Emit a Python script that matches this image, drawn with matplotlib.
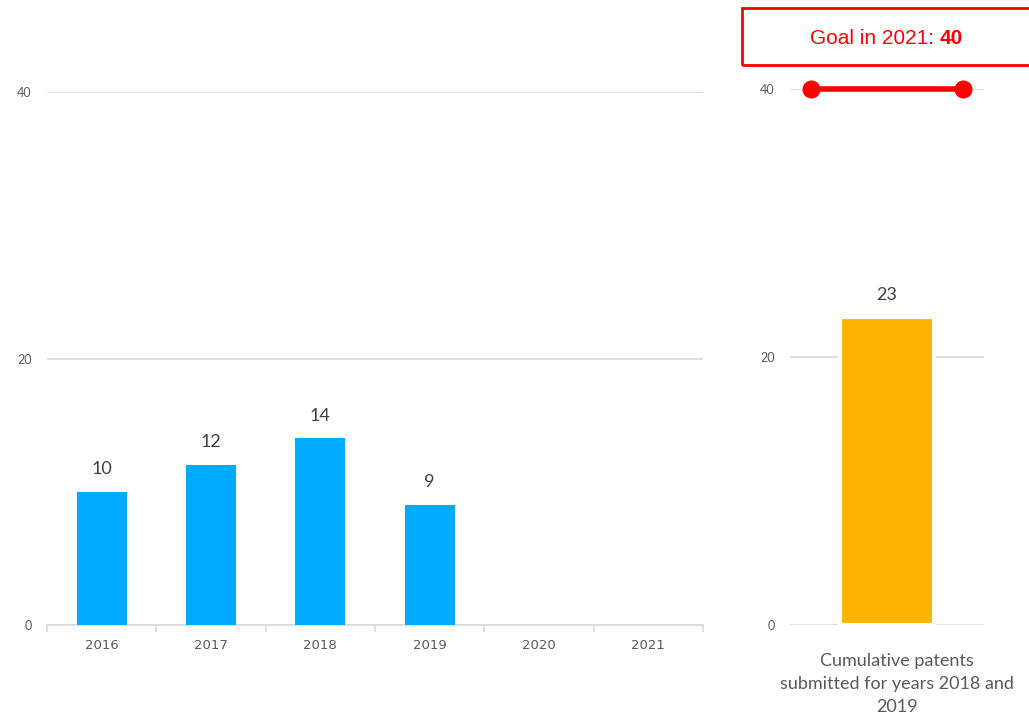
import matplotlib.pyplot as plt

# data
years = ["2016", "2017", "2018", "2019", "2020", "2021"]
patents = [10, 12, 14, 9, 0, 0]
cum_label = "Cumulative patents\nsubmitted for years 2018 and\n2019"
cum_value = 23
goal = 40
yticks = [0, 20, 40]

blue = "#00aaff"
orange = "#fbb400"
grid = "#d9d9d9"
txt = "#595959"

plt.rcParams["font.family"] = ["Lato", "DejaVu Sans"]

fig = plt.figure(figsize=(10.29, 7.19), dpi=100)

# left chart
ax = fig.add_axes([47 / 1029, 94 / 719, 656 / 1029, 533 / 719])
x = list(range(len(years)))
ax.bar(x, patents, width=0.46, color=blue, zorder=3)
for i, v in enumerate(patents):
    if v > 0:
        ax.text(i, v + 1.1, str(v), ha="center", va="bottom", fontsize=13, color="#404040")
ax.set_xlim(-0.5, len(years) - 0.5)
ax.set_ylim(0, 40)
ax.set_yticks(yticks)
ax.yaxis.grid(True, color=grid, linewidth=1.2, zorder=0)
ax.set_xticks(x)
ax.set_xticklabels(years, fontsize=9.5, color=txt, family="Liberation Sans Narrow")
ax.tick_params(axis="x", length=0, pad=10)
ax.set_xticks([i - 0.5 for i in range(len(years) + 1)], minor=True)
ax.tick_params(axis="x", which="minor", length=5, color=grid, width=1.2)
ax.tick_params(axis="y", length=0, labelsize=9, labelcolor=txt, pad=11)
for s in ["top", "right", "left"]:
    ax.spines[s].set_visible(False)
ax.spines["bottom"].set_color(grid)
ax.spines["bottom"].set_linewidth(1.2)

# right chart
ax2 = fig.add_axes([790 / 1029, 94 / 719, 194 / 1029, 536 / 719])
ax2.bar([0], [cum_value], width=0.48, color=orange, edgecolor="white", linewidth=3, zorder=3)
ax2.text(0, cum_value + 1.0, str(cum_value), ha="center", va="bottom", fontsize=13, color="#404040")
ax2.plot([-0.39, 0.39], [goal, goal], color="red", linewidth=4, marker="o",
         markersize=12, zorder=4, clip_on=False)
ax2.set_xlim(-0.5, 0.5)
ax2.set_ylim(0, 40)
ax2.set_yticks(yticks)
ax2.yaxis.grid(True, color=grid, linewidth=1.2, zorder=0)
ax2.set_xticks([])
ax2.tick_params(axis="y", length=0, labelsize=9, labelcolor=txt, pad=11)
for s in ax2.spines.values():
    s.set_visible(False)

fig.text(897 / 1029, 1 - 684 / 719, cum_label, ha="center", va="center",
         fontsize=13, color=txt, linespacing=1.55)

# goal box
fig.patches.append(plt.Rectangle((742 / 1029, 1 - 65 / 719), 300 / 1029, 57 / 719,
                                 transform=fig.transFigure, fill=False,
                                 edgecolor="red", linewidth=2, clip_on=False))
fig.text(940 / 1029, 1 - 38 / 719, "Goal in 2021: ", ha="right", va="center",
         fontsize=15, color="red", family="Liberation Sans")
fig.text(940 / 1029, 1 - 38 / 719, str(goal), ha="left", va="center",
         fontsize=15, color="red", family="Liberation Sans", fontweight="bold")

fig.savefig("out.png", dpi=100)
